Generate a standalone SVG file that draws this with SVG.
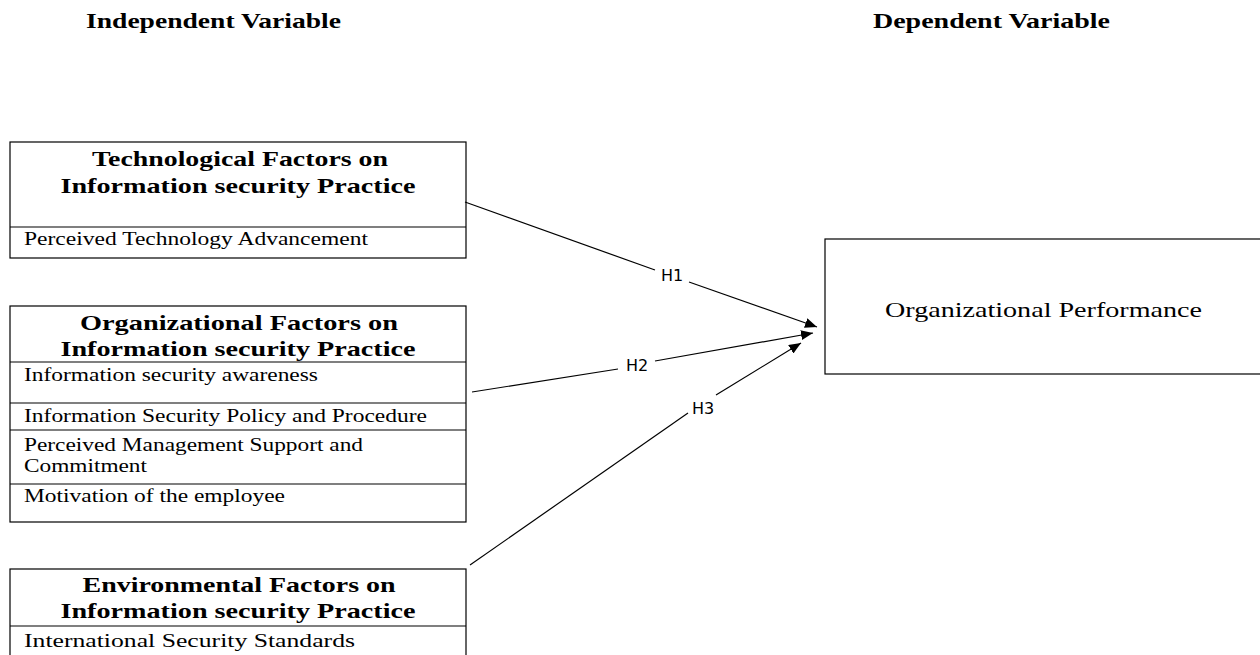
<svg xmlns="http://www.w3.org/2000/svg" width="1260" height="655" viewBox="0 0 1260 655">
<style>
.box{fill:#fff;stroke:#000;stroke-width:1.2}
.div{stroke:#000;stroke-width:1.2}
.hdr{font-family:"Liberation Serif",serif;font-weight:bold;font-size:22px;fill:#000}
.ttl{font-family:"Liberation Serif",serif;font-weight:bold;font-size:22px;fill:#000;text-anchor:middle}
.itm{font-family:"Liberation Serif",serif;font-size:18px;fill:#000}
.op{font-family:"Liberation Serif",serif;font-size:21px;fill:#000}
.lbl{font-family:"DejaVu Sans",sans-serif;font-size:16px;fill:#000;text-anchor:middle}
.con{stroke:#000;stroke-width:1.2;fill:none}
</style>
<defs>
<marker id="ah" viewBox="0 0 12 10" refX="12" refY="5" markerWidth="12" markerHeight="10" markerUnits="userSpaceOnUse" orient="auto">
<path d="M0,0 L12,5 L0,10 z" fill="#000"/>
</marker>
</defs>
<rect width="1260" height="655" fill="#fff"/>
<g id="headers">
<text class="hdr" x="86" y="28" textLength="255" lengthAdjust="spacingAndGlyphs">Independent Variable</text>
<text class="hdr" x="873" y="28" textLength="237" lengthAdjust="spacingAndGlyphs">Dependent Variable</text>
</g>
<g id="tech">
<rect class="box" x="10" y="142" width="456" height="116"/>
<line class="div" x1="10" y1="227" x2="466" y2="227"/>
<text class="ttl" x="240" y="166" textLength="296" lengthAdjust="spacingAndGlyphs">Technological Factors on</text>
<text class="ttl" x="238" y="193" textLength="355" lengthAdjust="spacingAndGlyphs">Information security Practice</text>
<text class="itm" x="24" y="245" textLength="344" lengthAdjust="spacingAndGlyphs">Perceived Technology Advancement</text>
</g>
<g id="org">
<rect class="box" x="10" y="306" width="456" height="216"/>
<line class="div" x1="10" y1="362" x2="466" y2="362"/>
<line class="div" x1="10" y1="403" x2="466" y2="403"/>
<line class="div" x1="10" y1="430" x2="466" y2="430"/>
<line class="div" x1="10" y1="484" x2="466" y2="484"/>
<text class="ttl" x="239" y="330" textLength="318" lengthAdjust="spacingAndGlyphs">Organizational Factors on</text>
<text class="ttl" x="238" y="356" textLength="355" lengthAdjust="spacingAndGlyphs">Information security Practice</text>
<text class="itm" x="24" y="381" textLength="294" lengthAdjust="spacingAndGlyphs">Information security awareness</text>
<text class="itm" x="24" y="422" textLength="403" lengthAdjust="spacingAndGlyphs">Information Security Policy and Procedure</text>
<text class="itm" x="24" y="451" textLength="339" lengthAdjust="spacingAndGlyphs">Perceived Management Support and</text>
<text class="itm" x="24" y="472" textLength="123" lengthAdjust="spacingAndGlyphs">Commitment</text>
<text class="itm" x="24" y="502" textLength="261" lengthAdjust="spacingAndGlyphs">Motivation of the employee</text>
</g>
<g id="env">
<rect class="box" x="10" y="569" width="456" height="100"/>
<line class="div" x1="10" y1="626" x2="466" y2="626"/>
<text class="ttl" x="239" y="592" textLength="313" lengthAdjust="spacingAndGlyphs">Environmental Factors on</text>
<text class="ttl" x="238" y="618" textLength="355" lengthAdjust="spacingAndGlyphs">Information security Practice</text>
<text class="itm" x="24" y="647" textLength="331" lengthAdjust="spacingAndGlyphs">International Security Standards</text>
</g>
<g id="perf">
<rect class="box" x="825" y="239" width="450" height="135"/>
<text class="op" x="885" y="317" textLength="317" lengthAdjust="spacingAndGlyphs">Organizational Performance</text>
</g>
<g id="connectors">
<path class="con" d="M465,202 L655,270"/>
<path class="con" d="M689,282 L817,327" marker-end="url(#ah)"/>
<path class="con" d="M472,392 L618,369"/>
<path class="con" d="M655,361 L813,333" marker-end="url(#ah)"/>
<path class="con" d="M470,565 L688,413"/>
<path class="con" d="M716,395 L801,343" marker-end="url(#ah)"/>
<text class="lbl" x="672" y="281">H1</text>
<text class="lbl" x="637" y="371">H2</text>
<text class="lbl" x="703" y="414">H3</text>
</g>
</svg>
